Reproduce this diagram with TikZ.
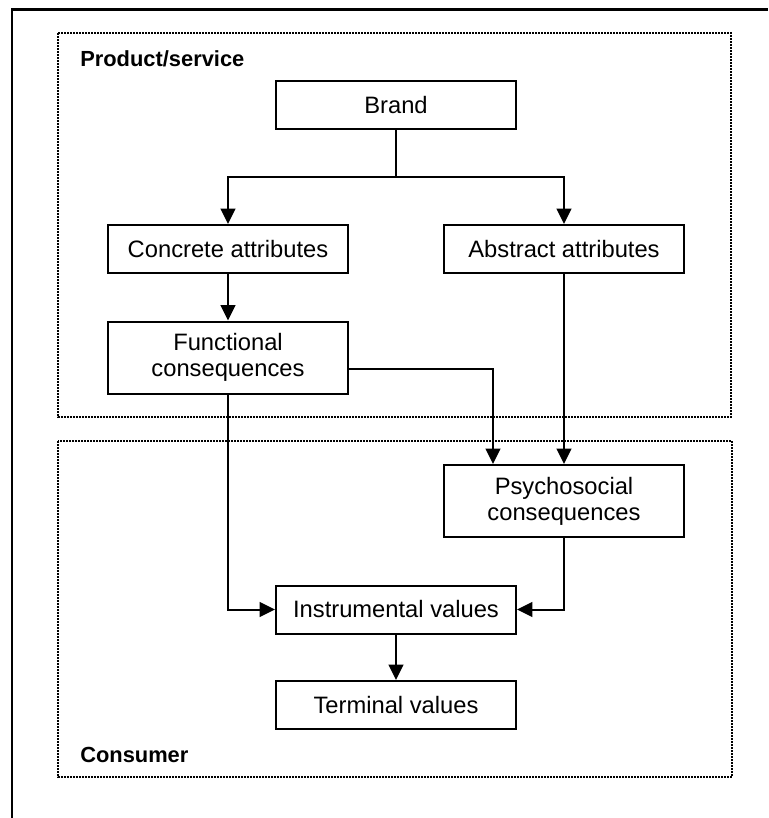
\documentclass[tikz,border=0pt]{standalone}
\usepackage{fontspec}
\setmainfont{Liberation Sans}
\usetikzlibrary{arrows.meta}

\begin{document}
\begin{tikzpicture}[x=0.75pt,y=-0.75pt,
 box/.style={draw,line width=1.5pt,minimum width=180pt,minimum height=36pt,inner sep=0pt,
  align=center,font=\fontsize{17.8}{19.5}\selectfont},
 tallbox/.style={box,minimum height=54pt},
 area/.style={line width=1.8pt,dash pattern=on 1.2pt off 1.05pt},
 arr/.style={line width=1.5pt,-{Triangle[length=11.5pt,width=11pt]}},
 tag/.style={anchor=base west,inner sep=0pt,font=\fontsize{16.4}{18}\selectfont\bfseries}]
\useasboundingbox (0,0) rectangle (768,818);
\draw[line width=1.6pt] (12,818) |- (768,9.5);

\draw[area] (58,33) rectangle (731,417);
\draw[area] (58,441) rectangle (732,777);
\node[tag] (product) at (80,66) {Product/service};
\node[tag] (consumer) at (80,762) {Consumer};

\node[box] (brand) at (396,105) {Brand};
\node[box] (concrete) at (228,249) {Concrete attributes};
\node[box] (abstract) at (564,249) {Abstract attributes};
\node[tallbox] (functional) at (228,357.5) {Functional\\consequences};
\node[tallbox] (psycho) at (564,501) {Psychosocial\\consequences};
\node[box] (instrumental) at (396,609.5) {Instrumental values};
\node[box] (terminal) at (396,705) {Terminal values};

\coordinate (split) at (396,177);
\draw[line width=1.5pt] (brand) -- (split);
\draw[arr] (split) -| (concrete);
\draw[arr] (split) -| (abstract);
\draw[arr] (concrete) -- (functional);
\draw[arr] (abstract) -- (psycho);
\draw[arr] ([yshift=-8.6pt]functional.east) -| ([xshift=-53.25pt]psycho.north);
\draw[arr] (functional) |- (instrumental);
\draw[arr] (psycho) |- (instrumental);
\draw[arr] (instrumental) -- (terminal);
\end{tikzpicture}
\end{document}
